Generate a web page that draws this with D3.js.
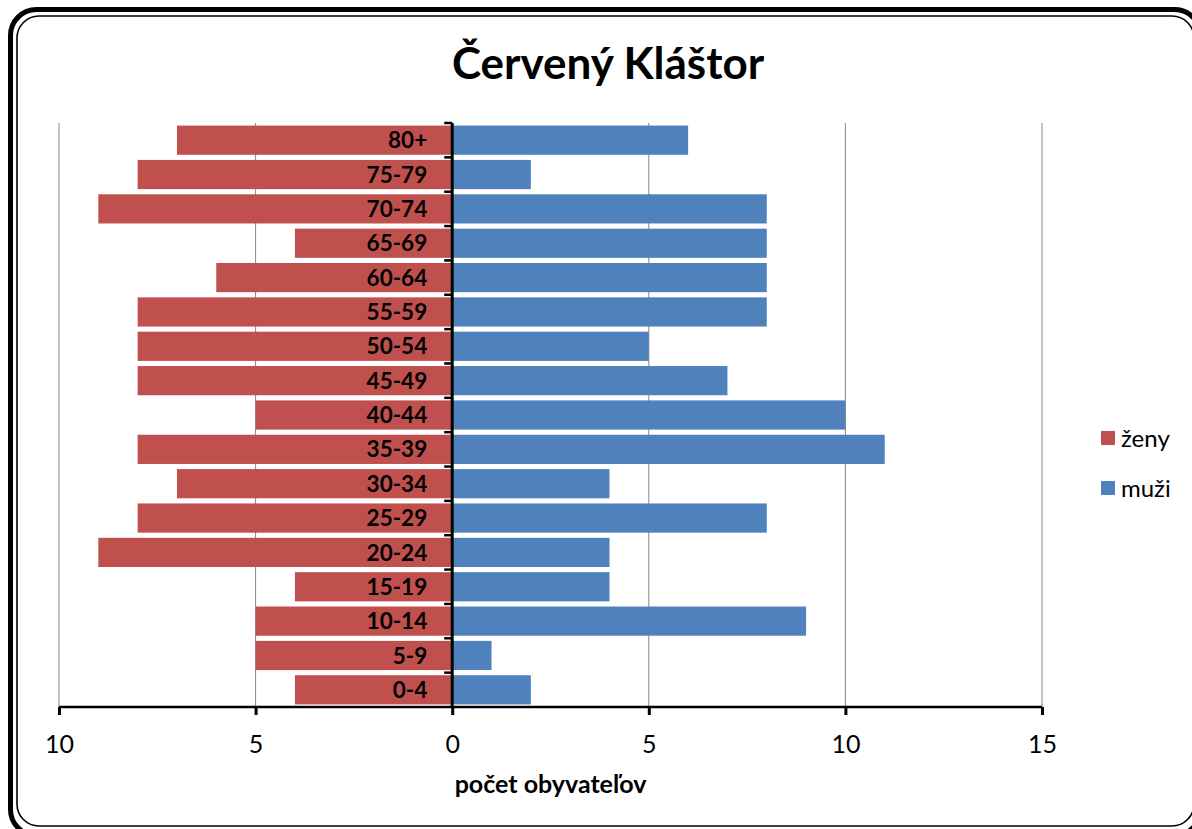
<!DOCTYPE html>
<html>
<head>
<meta charset="utf-8">
<script src="https://cdn.jsdelivr.net/npm/d3@7/dist/d3.min.js"></script>
<style>
  html, body { margin: 0; padding: 0; background: #fff; overflow: hidden; }
  svg { display: block; font-family: Lato, "Open Sans", sans-serif; }
</style>
</head>
<body>
<svg id="chart" width="1192" height="829"></svg>
<script>
// ---- data ----
const title = "Červený Kláštor";
const categories = ["80+", "75-79", "70-74", "65-69", "60-64", "55-59", "50-54", "45-49", "40-44", "35-39", "30-34", "25-29", "20-24", "15-19", "10-14", "5-9", "0-4"];
const zeny = [7, 8, 9, 4, 6, 8, 8, 8, 5, 8, 7, 8, 9, 4, 5, 5, 4];
const muzi = [6, 2, 8, 8, 8, 8, 5, 7, 10, 11, 4, 8, 4, 4, 9, 1, 2];
const xTicks = [-10, -5, 0, 5, 10, 15];
const seriesNames = ["ženy", "muži"];
const seriesColors = ["#C0504D", "#4F81BD"];
const xAxisTitle = "počet obyvateľov";

// ---- layout ----
const svg = d3.select("#chart");
const pLeft = 59, pRight = 1042, pTop = 123, pBottom = 707;

// frame
svg.append("rect").attr("x", 10.5).attr("y", 9.5).attr("width", 1190).attr("height", 826)
  .attr("rx", 26).attr("ry", 26).attr("fill", "none").attr("stroke", "#000").attr("stroke-width", 5);
svg.append("rect").attr("x", 17).attr("y", 16).attr("width", 1177).attr("height", 810)
  .attr("rx", 22).attr("ry", 22).attr("fill", "#fff").attr("stroke", "#000").attr("stroke-width", 1.6);

const x = d3.scaleLinear().domain([-10, 15]).range([pLeft, pRight]);
const y = d3.scaleBand().domain(categories).range([pTop, pBottom]).paddingInner(0.15).paddingOuter(0.075);

// title
svg.append("text").attr("x", 608).attr("y", 79).attr("text-anchor", "middle")
  .attr("font-size", 44).attr("font-weight", "bold").attr("fill", "#000").text(title);

// gridlines
svg.append("g").selectAll("line").data(xTicks.filter(d => d !== 0)).join("line")
  .attr("x1", d => x(d)).attr("x2", d => x(d)).attr("y1", pTop).attr("y2", pBottom)
  .attr("stroke", "#868686").attr("stroke-width", 1);

// bars
const rows = categories.map((c, i) => ({ c, z: zeny[i], m: muzi[i] }));
svg.append("g").selectAll("rect").data(rows).join("rect")
  .attr("x", d => x(-d.z)).attr("y", d => y(d.c))
  .attr("width", d => x(0) - x(-d.z)).attr("height", y.bandwidth())
  .attr("fill", seriesColors[0]);
svg.append("g").selectAll("rect").data(rows).join("rect")
  .attr("x", x(0)).attr("y", d => y(d.c))
  .attr("width", d => x(d.m) - x(0)).attr("height", y.bandwidth())
  .attr("fill", seriesColors[1]);

// category labels
svg.append("g").selectAll("text").data(categories).join("text")
  .attr("x", x(0) - 25).attr("y", d => y(d) + y.bandwidth() / 2)
  .attr("dy", "0.36em").attr("text-anchor", "end")
  .attr("font-size", 22.5).attr("font-weight", "bold").attr("fill", "#000").text(d => d);

// x axis
const xAxis = d3.axisBottom(x).tickValues(xTicks).tickSize(8).tickPadding(20)
  .tickFormat(d => String(Math.abs(d)));
const gx = svg.append("g").attr("transform", `translate(0,${pBottom})`).call(xAxis);
gx.select(".domain").attr("stroke", "#000").attr("stroke-width", 2.5)
  .attr("d", `M${pLeft},0H${pRight}`);
gx.selectAll(".tick line").attr("stroke", "#000").attr("stroke-width", 3);
gx.selectAll(".tick text").attr("font-size", 25).attr("font-family", "Lato, 'Open Sans', sans-serif").attr("fill", "#000");

// y axis at zero
const step = y.step();
const bounds = categories.map((c, i) => pTop + i * step);
svg.append("g").selectAll("line").data(bounds).join("line")
  .attr("x1", x(0) - 8).attr("x2", x(0)).attr("y1", d => d).attr("y2", d => d)
  .attr("stroke", "#000").attr("stroke-width", 2.5);
svg.append("line").attr("x1", x(0)).attr("x2", x(0)).attr("y1", pTop).attr("y2", pBottom)
  .attr("stroke", "#000").attr("stroke-width", 3);

// axis title
svg.append("text").attr("x", (pLeft + pRight) / 2).attr("y", 793).attr("text-anchor", "middle")
  .attr("font-size", 25).attr("font-weight", "bold").attr("fill", "#000").text(xAxisTitle);

// legend
const lg = svg.append("g").selectAll("g").data(seriesNames).join("g")
  .attr("transform", (d, i) => `translate(1101,${431 + i * 50})`);
lg.append("rect").attr("width", 14).attr("height", 14).attr("fill", (d, i) => seriesColors[i]);
lg.append("text").attr("x", 20).attr("y", 7).attr("dy", "0.36em")
  .attr("font-size", 24).attr("fill", "#000").text(d => d);
</script>
</body>
</html>
